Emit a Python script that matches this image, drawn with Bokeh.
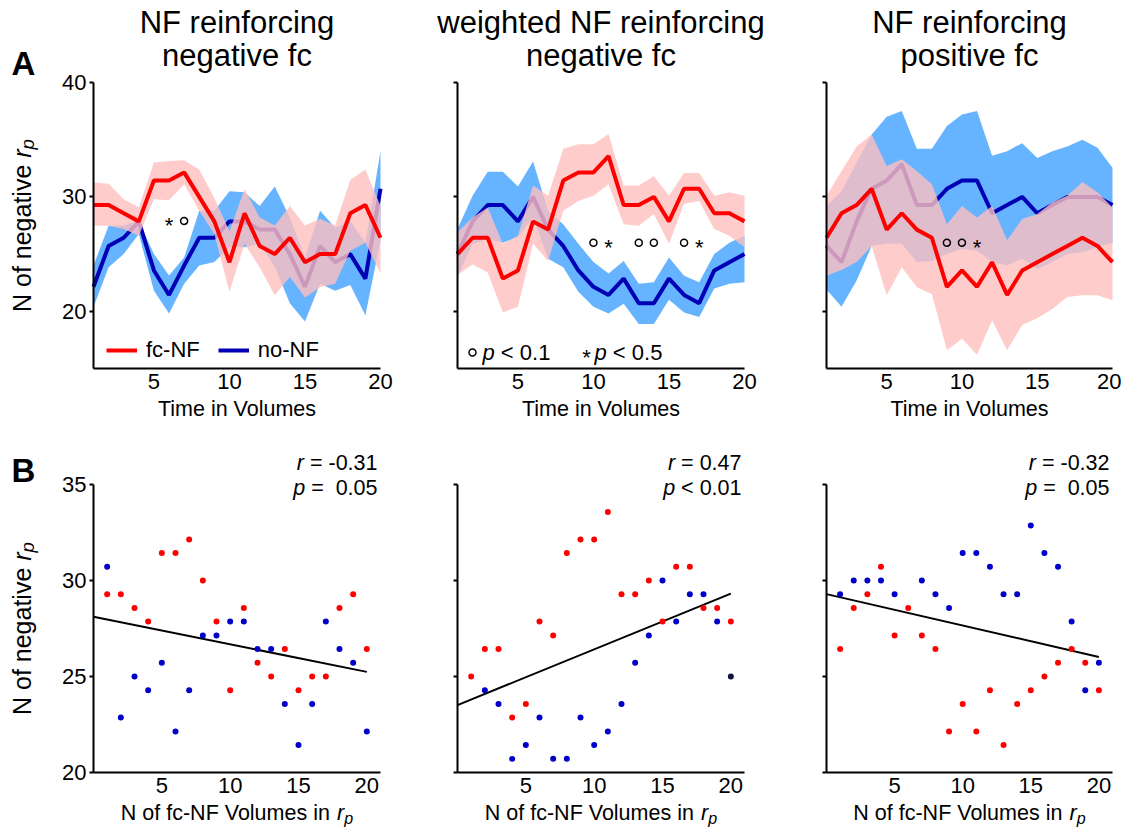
import numpy as np
from bokeh.plotting import figure
from bokeh.models import (Label, Range1d, Legend, LegendItem, FixedTicker,
                          LinearAxis)
from bokeh.embed import file_html
from bokeh.resources import INLINE

FONT = "Liberation Sans"
NB = "\u00a0"

# ---------------- data ----------------
time = list(range(1, 21))

titles = [["NF reinforcing", "negative fc"],
          ["weighted NF reinforcing", "negative fc"],
          ["NF reinforcing", "positive fc"]]

# panel 1: NF reinforcing negative fc
p1_fc_mean = [29.29, 29.29, 28.57, 27.86, 31.43, 31.43, 32.14, 30.00, 27.86, 24.29,
              28.57, 25.71, 25.00, 26.43, 24.29, 25.00, 25.00, 28.57, 29.29, 26.43]
p1_fc_upper = [31.25, 31.16, 29.8, 29.07, 33.0, 33.13, 33.2, 32.4, 29.9, 27.0,
               30.7, 28.2, 27.5, 29.2, 27.5, 28.1, 27.5, 31.5, 32.4, 29.2]
p1_fc_lower = [27.48, 27.48, 27.2, 26.6, 29.8, 29.7, 31.1, 28.8, 26.75, 21.7,
               25.9, 23.86, 21.4, 23.0, 21.2, 22.1, 22.4, 25.3, 26.0, 23.3]
p1_no_mean = [22.14, 25.71, 26.43, 27.86, 23.57, 21.43, 24.0, 26.43, 26.43, 27.86,
              27.86, 27.14, 27.14, 25.0, 22.14, 25.71, 24.29, 25.0, 22.86, 30.71]
p1_no_upper = [24.0, 27.48, 27.5, 27.9, 25.0, 23.13, 24.7, 28.8, 28.8, 30.5,
               30.4, 29.2, 30.9, 28.2, 24.7, 28.8, 27.3, 27.9, 26.0, 34.0]
p1_no_lower = [20.38, 23.86, 25.0, 26.75, 21.8, 19.8, 22.4, 24.0, 24.3, 25.6,
               25.6, 25.9, 23.9, 20.7, 19.1, 22.4, 21.8, 22.3, 19.65, 26.2]

# panel 2: weighted NF reinforcing negative fc
p2_fc_mean = [25.00, 26.43, 26.43, 22.86, 23.57, 27.86, 27.14, 31.43, 32.14, 32.14,
              33.57, 29.29, 29.29, 30.00, 27.86, 30.71, 30.71, 28.57, 28.57, 27.86]
p2_fc_upper = [26.9, 28.2, 29.07, 25.9, 26.6, 31.0, 30.1, 34.2, 34.6, 34.6,
               35.5, 31.0, 31.0, 31.8, 30.1, 32.1, 32.1, 30.1, 30.4, 30.1]
p2_fc_lower = [23.2, 24.1, 23.4, 19.9, 20.4, 25.9, 24.4, 28.8, 29.65, 30.1,
               31.1, 27.6, 27.48, 28.5, 25.9, 29.4, 29.65, 27.2, 26.6, 25.6]
p2_no_mean = [25.0, 27.86, 29.29, 29.29, 27.86, 30.0, 27.14, 25.71, 23.57, 22.14,
              21.43, 22.86, 20.71, 20.71, 22.86, 21.43, 20.71, 23.57, 24.29, 25.0]
p2_no_upper = [27.2, 30.1, 32.2, 32.2, 30.9, 33.1, 28.8, 27.6, 25.9, 24.3,
               23.3, 24.4, 22.4, 22.55, 24.7, 23.1, 22.55, 25.0, 26.0, 26.6]
p2_no_lower = [23.0, 25.9, 26.3, 26.0, 26.5, 28.2, 24.6, 23.86, 21.7, 20.4,
               19.8, 20.67, 18.9, 18.9, 21.0, 19.9, 19.5, 22.0, 22.4, 22.55]

# panel 3: NF reinforcing positive fc
p3_fc_mean = [26.43, 28.57, 29.29, 30.71, 27.14, 28.57, 27.14, 26.43, 22.14, 23.57,
              22.14, 24.29, 21.43, 23.57, 24.29, 25.00, 25.71, 26.43, 25.71, 24.29]
p3_fc_upper = [30.1, 32.26, 34.4, 35.45, 32.7, 33.3, 32.26, 31.1, 27.6, 29.2,
               28.2, 29.2, 26.2, 28.06, 28.5, 29.5, 30.1, 31.3, 30.4, 29.07]
p3_fc_lower = [23.1, 23.6, 24.3, 25.7, 21.4, 23.86, 22.1, 21.5, 16.6, 17.6,
               16.2, 19.2, 16.6, 18.8, 19.4, 20.2, 21.25, 21.4, 21.4, 20.96]
p3_no_mean = [25.71, 24.29, 27.86, 30.71, 31.43, 32.86, 29.29, 29.29, 30.71, 31.43,
              31.43, 28.57, 29.29, 30.0, 28.57, 29.29, 30.0, 30.0, 30.0, 29.29]
p3_no_upper = [29.2, 30.5, 33.0, 35.45, 37.0, 37.5, 34.2, 34.2, 36.2, 37.2,
               37.5, 33.6, 34.0, 34.7, 33.4, 34.0, 34.4, 35.0, 34.3, 32.55]
p3_no_lower = [21.9, 20.4, 22.7, 25.7, 25.9, 25.9, 24.3, 24.4, 25.0, 25.45,
               25.3, 24.3, 24.0, 24.6, 23.7, 24.3, 25.0, 25.16, 25.6, 26.0]

# significant time points (o: p < 0.1, *: p < 0.5)
p1_sig_x = [6, 7]
p1_sig_mark = ["*", "o"]
p2_sig_x = [10, 11, 13, 14, 16, 17]
p2_sig_mark = ["o", "*", "o", "o", "o", "*"]
p3_sig_x = [9, 10, 11]
p3_sig_mark = ["o", "o", "*"]

# scatter of no-NF runs against N of fc-NF volumes
s1_no_x = list(range(1, 21))
s1_no_y = [30.71, 22.86, 25.0, 24.29, 25.71, 22.14, 24.29, 27.14, 27.14, 27.86,
           27.86, 26.43, 26.43, 23.57, 21.43, 23.57, 27.86, 26.43, 25.71, 22.14]
s2_no_x = list(range(2, 21))
s2_no_y = [24.29, 23.57, 20.71, 21.43, 22.86, 20.71, 20.71, 22.86, 21.43, 22.14,
           23.57, 25.71, 27.14, 30.0, 27.86, 29.29, 29.29, 27.86, 25.0]
s3_no_x = [1, 2, 3, 4, 5, 7, 8, 9, 10, 11, 12, 13, 14, 15, 16, 17, 18, 19, 20]
s3_no_y = [29.29, 30.0, 30.0, 30.0, 29.29, 30.0, 29.29, 28.57, 31.43, 31.43,
           30.71, 29.29, 29.29, 32.86, 31.43, 30.71, 27.86, 24.29, 25.71]

# regression lines (end points at N = 0 and N = 20)
fit_x = [0, 20]
fit1_y = [28.11, 25.24]
fit2_y = [23.51, 29.32]
fit3_y = [29.29, 26.02]

stats = [("r", " = -0.31", "p", " =  0.05"),
         ("r", " = 0.47", "p", " < 0.01"),
         ("r", " = -0.32", "p", " =  0.05")]

x_ticks = [5, 10, 15, 20]
top_y_ticks = [20, 30, 40]
bot_y_ticks = [20, 25, 30, 35]

# ---------------- style ----------------
RED = "#ff0000"
NAVY = "#0000b4"
BAND_BLUE = "#66b3ff"
BAND_RED = "#ffbfbf"
DOT_BLUE = "#0000c8"
AX_SIZE = 21.5
YLAB_SIZE = 25
TICK_SIZE = "22px"
DOT = 6

# Arial / Liberation Sans advance widths (per 1000 em)
ADV = {' ': 278, NB: 278, '*': 389, '-': 333, '.': 278, '<': 584, '=': 584,
       'A': 667, 'B': 667, 'F': 611, 'N': 722, 'T': 611, 'V': 667,
       'a': 556, 'c': 500, 'd': 556, 'e': 556, 'f': 278, 'g': 556, 'h': 556,
       'i': 222, 'l': 222, 'm': 833, 'n': 556, 'o': 556, 'p': 556, 'r': 333,
       's': 500, 't': 278, 'u': 556, 'v': 500, 'w': 722}
for d in "0123456789":
    ADV[d] = 556


def text_width(s, size):
    return sum(ADV.get(c, 556) for c in s) * size / 1000.0


# page geometry (pixels, y downward)
W, H = 1121, 832
FRAME_X = [(93, 380), (457, 744), (826, 1112)]
FRAME_Y = [(82, 368), (484, 772)]

# one canvas whose default ranges are page pixels; every panel gets its own
# pair of named ranges mapped onto its box
page = figure(width=W, height=H, x_range=Range1d(0, W), y_range=Range1d(H, 0),
              output_backend="svg", toolbar_location=None, title=None,
              x_axis_location=None, y_axis_location=None,
              min_border=0, min_border_left=0, min_border_right=0,
              min_border_top=0, min_border_bottom=0)
page.outline_line_color = None
page.grid.visible = False
page.background_fill_color = "white"
page.border_fill_color = "white"


def add_panel(name, col, rw, xr, yr):
    x0, x1 = FRAME_X[col]
    y0, y1 = FRAME_Y[rw]
    sx = (xr[1] - xr[0]) / (x1 - x0)
    sy = (yr[1] - yr[0]) / (y1 - y0)
    page.extra_x_ranges[name + "x"] = Range1d(xr[0] - x0 * sx, xr[0] + (W - x0) * sx)
    page.extra_y_ranges[name + "y"] = Range1d(yr[0] - (H - y1) * sy, yr[0] + y1 * sy)
    return dict(x_range_name=name + "x", y_range_name=name + "y")


def add_axes(rn, xr, yr, yticks, show_ylabels):
    xa = LinearAxis(ticker=FixedTicker(ticks=x_ticks), fixed_location=yr[0],
                    bounds=xr, **rn)
    ya = LinearAxis(ticker=FixedTicker(ticks=yticks), fixed_location=xr[0],
                    bounds=yr, **rn)
    for ax in (xa, ya):
        ax.axis_line_width = 2
        ax.axis_line_color = "black"
        ax.major_tick_line_width = 2
        ax.minor_tick_line_color = None
        ax.major_label_text_font = FONT
        ax.major_label_text_font_size = TICK_SIZE
        ax.major_label_text_color = "black"
    xa.major_tick_out = 0
    xa.major_tick_in = 0
    xa.major_label_standoff = 5
    ya.major_tick_out = 4
    ya.major_tick_in = 0
    ya.major_label_standoff = 3
    if not show_ylabels:
        ya.major_label_overrides = {t: "" for t in yticks}
    page.add_layout(xa, "below")
    page.add_layout(ya, "left")


def label(X, Y, text, size, align="left", style="normal", angle=0.0):
    page.add_layout(Label(
        x=X, y=Y, text=text, text_align=align, text_baseline="middle",
        text_font=FONT, text_font_size=f"{size:.1f}px", text_font_style=style,
        text_color="black", angle=angle))


def rich(X, Y, parts, size, align="left", vertical=False):
    # parts: (text, italic, scale, drop_px)
    widths = [text_width(t, size * s) for t, _, s, _ in parts]
    total = sum(widths)
    off = {"left": 0.0, "center": -total / 2, "right": -total}[align]
    for (t, it, s, drop), w in zip(parts, widths):
        style = "italic" if it else "normal"
        t = t.replace(" ", NB)
        if vertical:
            label(X + drop, Y - off, t, size * s, "left", style, np.pi / 2)
        else:
            label(X + off, Y + drop, t, size * s, "left", style)
        off += w


series = [
    (p1_fc_mean, p1_fc_upper, p1_fc_lower, p1_no_mean, p1_no_upper, p1_no_lower,
     p1_sig_x, p1_sig_mark, 27.9),
    (p2_fc_mean, p2_fc_upper, p2_fc_lower, p2_no_mean, p2_no_upper, p2_no_lower,
     p2_sig_x, p2_sig_mark, 26.0),
    (p3_fc_mean, p3_fc_upper, p3_fc_lower, p3_no_mean, p3_no_upper, p3_no_lower,
     p3_sig_x, p3_sig_mark, 26.0),
]
scatter_no = [(s1_no_x, s1_no_y), (s2_no_x, s2_no_y), (s3_no_x, s3_no_y)]
fits = [fit1_y, fit2_y, fit3_y]
ylab = [("N of negative ", False, 1, 0), ("r", True, 1, 0), ("p", True, 0.75, 6)]

legend_items = []
for c in range(3):
    fc_m, fc_u, fc_l, no_m, no_u, no_l, sig_x, sig_mark, sig_level = series[c]
    fx0, fx1 = FRAME_X[c]
    cx = (fx0 + fx1) / 2

    # ---------- time course panel ----------
    txr, tyr = (1, 20), (15, 40)
    rn = add_panel(f"t{c}", c, 0, txr, tyr)
    page.varea(x=time, y1=no_l, y2=no_u, fill_color=BAND_BLUE, fill_alpha=1.0, **rn)
    r_no = page.line(time, no_m, line_color=NAVY, line_width=4, **rn)
    page.varea(x=time, y1=fc_l, y2=fc_u, fill_color=BAND_RED, fill_alpha=0.8, **rn)
    r_fc = page.line(time, fc_m, line_color=RED, line_width=4, **rn)
    add_axes(rn, txr, tyr, top_y_ticks, c == 0)

    circ_x = [x for x, m in zip(sig_x, sig_mark) if m == "o"]
    page.scatter(circ_x, [sig_level] * len(circ_x), marker="circle", size=7,
                 fill_color=None, line_color="black", line_width=1.5, **rn)
    fy0, fy1 = FRAME_Y[0]
    star_y = fy1 - (sig_level - tyr[0]) / (tyr[1] - tyr[0]) * (fy1 - fy0) + 5
    for x, m in zip(sig_x, sig_mark):
        if m == "*":
            X = fx0 + (x - txr[0]) / (txr[1] - txr[0]) * (fx1 - fx0)
            label(X, star_y, "*", 22, align="center")

    label(cx, 22, titles[c][0], 31, align="center")
    label(cx, 55, titles[c][1], 31, align="center")
    label(cx, 408, "Time in Volumes", AX_SIZE, align="center")

    if c == 0:
        label(11, 63, "A", 33, style="bold")
        rich(21, 225, ylab, YLAB_SIZE, align="center", vertical=True)
        legend_items = [LegendItem(label="fc-NF", renderers=[r_fc]),
                        LegendItem(label="no-NF", renderers=[r_no])]
    if c == 1:
        page.scatter([472], [352], marker="circle", size=7,
                     fill_color=None, line_color="black", line_width=1.5)
        rich(482, 352, [("p", True, 1, 0), (" < 0.1", False, 1, 0)], 22)
        label(586, 357, "*", 22, align="center")
        rich(594, 352, [("p", True, 1, 0), (" < 0.5", False, 1, 0)], 22)

    # ---------- scatter panel ----------
    bxr, byr = (0, 21), (20, 35)
    rn = add_panel(f"b{c}", c, 1, bxr, byr)
    page.line(fit_x, fits[c], line_color="black", line_width=2, **rn)
    nx, ny = scatter_no[c]
    no_colors = [DOT_BLUE] * len(nx)
    if c == 1:
        no_colors[-1] = "#101040"
    page.scatter(nx, ny, marker="circle", size=DOT, fill_color=no_colors,
                 line_color=None, **rn)
    page.scatter(time, fc_m, marker="circle", size=DOT, fill_color=RED,
                 line_color=None, **rn)
    add_axes(rn, bxr, byr, bot_y_ticks, c == 0)

    rx = fx1 - 3
    sr, rest_r, sp, rest_p = stats[c]
    rich(rx, 462, [(sr, True, 1, 0), (rest_r, False, 1, 0)], AX_SIZE, align="right")
    rich(rx, 487, [(sp, True, 1, 0), (rest_p, False, 1, 0)], AX_SIZE, align="right")
    rich(cx, 812, [("N of fc-NF Volumes in ", False, 1, 0), ("r", True, 1, 0),
                   ("p", True, 0.75, 5)], AX_SIZE, align="center")
    if c == 0:
        label(11, 470, "B", 33, style="bold")
        rich(21, 628, ylab, YLAB_SIZE, align="center", vertical=True)

legend = Legend(items=legend_items, orientation="horizontal", location=(106, H - 363),
                background_fill_alpha=0, border_line_color=None,
                label_text_font=FONT, label_text_font_size="22px",
                label_text_color="black",
                glyph_width=31, glyph_height=20, label_standoff=9,
                spacing=18, padding=0, margin=0)
page.add_layout(legend)

open("out.html", "w").write(file_html(page, INLINE))
